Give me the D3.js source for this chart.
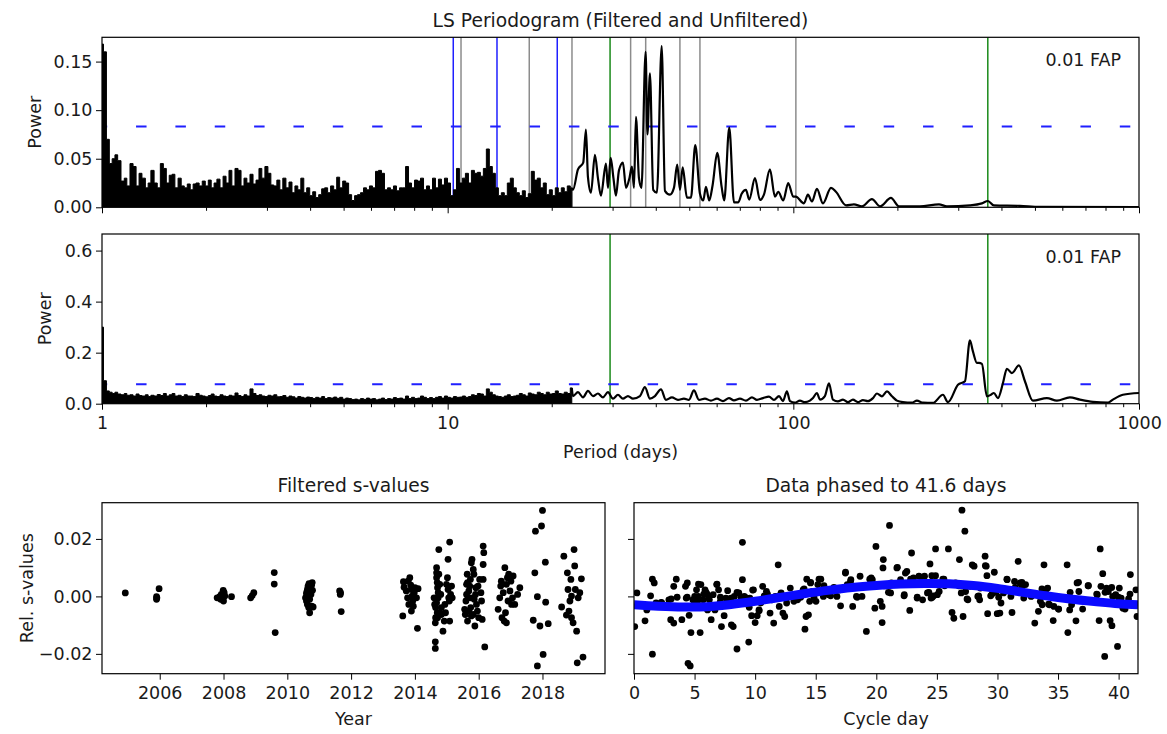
<!DOCTYPE html>
<html><head><meta charset="utf-8">
<script src="https://cdn.jsdelivr.net/npm/d3@7"></script>
<style>
body{margin:0;background:#fff;}
text{font-family:"DejaVu Sans",sans-serif;}
</style></head><body>
<svg id="c" width="1167" height="734"></svg>
<script>
// ---------- periodogram: dense sampling (1 - 23 days) ----------
const densePeriods = [
1.00,1.02,1.04,1.06,1.08,1.10,1.12,1.15,1.17,1.19,
1.22,1.24,1.27,1.29,1.32,1.35,1.37,1.40,1.43,1.46,
1.49,1.52,1.55,1.58,1.61,1.64,1.68,1.71,1.75,1.78,
1.82,1.85,1.89,1.93,1.97,2.01,2.05,2.09,2.13,2.17,
2.22,2.26,2.31,2.35,2.40,2.45,2.50,2.55,2.60,2.65,
2.71,2.76,2.82,2.87,2.93,2.99,3.05,3.11,3.17,3.24,
3.30,3.37,3.44,3.51,3.58,3.65,3.72,3.80,3.87,3.95,
4.03,4.11,4.19,4.28,4.36,4.45,4.54,4.63,4.73,4.82,
4.92,5.02,5.12,5.22,5.33,5.43,5.54,5.65,5.77,5.88,
6.00,6.12,6.25,6.37,6.50,6.63,6.77,6.90,7.04,7.18,
7.33,7.48,7.63,7.78,7.94,8.10,8.26,8.43,8.60,8.77,
8.95,9.13,9.31,9.50,9.69,9.89,10.09,10.29,10.50,10.71,
10.92,11.14,11.37,11.60,11.83,12.07,12.31,12.56,12.81,13.07,
13.33,13.60,13.88,14.16,14.44,14.73,15.03,15.33,15.64,15.96,
16.28,16.61,16.94,17.28,17.63,17.99,18.35,18.72,19.10,19.48,
19.88,20.28,20.69,21.11,21.53,21.96,22.41,22.86];
const filteredDensePower = [
0.168,0.160,0.070,0.045,0.050,0.054,0.048,0.027,0.030,0.022,
0.045,0.042,0.022,0.035,0.030,0.020,0.025,0.038,0.025,0.020,
0.045,0.040,0.025,0.033,0.034,0.020,0.030,0.022,0.020,0.024,
0.018,0.024,0.025,0.022,0.027,0.022,0.028,0.020,0.025,0.029,
0.020,0.032,0.025,0.038,0.022,0.040,0.038,0.022,0.030,0.025,
0.034,0.024,0.028,0.040,0.030,0.042,0.035,0.023,0.022,0.028,
0.018,0.030,0.020,0.026,0.015,0.022,0.018,0.030,0.015,0.020,
0.012,0.016,0.010,0.013,0.019,0.020,0.015,0.022,0.018,0.031,
0.020,0.027,0.025,0.013,0.007,0.012,0.013,0.015,0.020,0.018,
0.022,0.020,0.037,0.038,0.035,0.018,0.020,0.018,0.022,0.017,
0.020,0.020,0.042,0.025,0.020,0.028,0.027,0.030,0.018,0.022,
0.018,0.030,0.020,0.029,0.023,0.030,0.025,0.012,0.018,0.040,
0.025,0.030,0.035,0.025,0.038,0.035,0.036,0.032,0.040,0.060,
0.042,0.035,0.020,0.012,0.015,0.012,0.025,0.030,0.020,0.015,
0.012,0.017,0.010,0.014,0.037,0.028,0.030,0.020,0.025,0.013,
0.018,0.012,0.020,0.015,0.020,0.016,0.022,0.020];
const unfilteredDensePower = [
0.300,0.090,0.050,0.045,0.040,0.045,0.038,0.035,0.040,0.033,
0.035,0.030,0.038,0.032,0.030,0.035,0.028,0.033,0.030,0.036,
0.032,0.040,0.030,0.035,0.040,0.030,0.033,0.028,0.035,0.030,
0.030,0.028,0.040,0.033,0.030,0.027,0.032,0.038,0.030,0.028,
0.035,0.030,0.028,0.033,0.030,0.042,0.032,0.028,0.035,0.030,
0.058,0.040,0.032,0.035,0.030,0.028,0.033,0.030,0.035,0.027,
0.028,0.032,0.025,0.030,0.027,0.022,0.028,0.025,0.022,0.026,
0.024,0.020,0.025,0.022,0.028,0.020,0.024,0.022,0.026,0.021,
0.025,0.018,0.022,0.020,0.016,0.018,0.015,0.020,0.017,0.022,
0.018,0.020,0.015,0.018,0.022,0.016,0.020,0.018,0.024,0.020,
0.022,0.018,0.030,0.020,0.025,0.020,0.022,0.030,0.025,0.020,
0.024,0.020,0.025,0.028,0.022,0.030,0.025,0.022,0.028,0.025,
0.026,0.030,0.025,0.028,0.035,0.032,0.040,0.038,0.030,0.058,
0.045,0.035,0.030,0.028,0.025,0.030,0.035,0.028,0.030,0.033,
0.040,0.035,0.030,0.042,0.038,0.035,0.045,0.040,0.035,0.045,
0.038,0.040,0.050,0.040,0.038,0.045,0.040,0.062];

// ---------- periodogram: resolved part (23 - 1000 days) ----------
const filteredPeriods = [23.04,23.82,24.67,25.12,25.46,25.97,26.67,27.21,27.76,28.7,
29.09,29.62,30.17,30.68,31.3,32.14,32.8,33.56,34.13,34.59,
35.05,35.76,36.36,37.38,37.84,38.47,39.32,40.31,41.6,42.52,
43.95,45.14,46.14,46.99,47.85,49.23,50.56,52.03,53.69,54.88,
55.87,57.11,58.42,60.24,62.03,63.1,65.26,67.34,69.3,70.88,
72.94,74.56,77.44,80.07,82.22,85.57,88.47,90.44,93.49,96.65,
99.93,101.7,107.3,110.2,113.2,117.0,121.8,128.5,132.8,142.0,
149.7,157.9,168.8,178.1,191.6,202.1,232.3,263.8,278.2,324.2,
351.2,365.5,380.4,452.4,516.9,1000];
const filteredPower = [0.018,0.039,0.046,0.080,0.031,0.015,0.054,0.030,0.012,0.045,
0.020,0.051,0.030,0.012,0.038,0.046,0.020,0.030,0.042,0.020,
0.093,0.030,0.020,0.160,0.075,0.138,0.018,0.015,0.166,0.017,
0.013,0.020,0.044,0.018,0.041,0.010,0.010,0.064,0.014,0.007,
0.021,0.007,0.023,0.056,0.021,0.007,0.082,0.005,0.005,0.014,
0.018,0.008,0.030,0.0075,0.013,0.039,0.011,0.016,0.007,0.025,
0.011,0.011,0.004,0.013,0.006,0.019,0.004,0.020,0.016,0.002,
0.003,0.001,0.0085,0.001,0.0096,0.001,0.001,0.003,0.001,0.002,
0.004,0.0065,0.002,0.0015,0.0005,0.0003];

const unfilteredPeriods = [23.04,23.82,24.63,25.46,26.33,27.21,28.14,29.09,30.08,31.09,
32.14,33.23,34.36,36.0,37.21,38.47,39.78,41.4,42.8,44.55,
46.37,48.26,49.89,51.58,53.33,55.5,57.77,60.12,62.57,65.12,
67.34,70.07,72.94,75.92,78.5,81.7,85.0,87.9,90.9,93.3,
95.8,97.8,101.1,104.5,108.0,111.7,114.0,117.0,119.4,123.4,
126.8,130.2,134.6,139.2,143.9,148.7,153.8,159.0,164.4,170.0,
174.5,180.4,186.6,192.9,199.4,207.5,220.3,227.8,237.1,253.4,
270.9,280.1,299.4,313.7,324.2,330.8,339.7,344.3,351.2,363.1,
372.9,380.4,390.7,403.9,414.8,428.8,449.4,467.7,493.3,541.5,
578.8,631.0,674.5,735.7,812.8,840.4,898.3,1000];
const unfilteredPower = [0.030,0.045,0.025,0.050,0.030,0.040,0.025,0.045,0.020,0.035,
0.020,0.030,0.020,0.030,0.065,0.020,0.030,0.056,0.015,0.025,
0.015,0.020,0.015,0.052,0.015,0.020,0.012,0.020,0.010,0.022,
0.013,0.020,0.012,0.025,0.015,0.022,0.028,0.015,0.030,0.010,
0.048,0.010,0.004,0.012,0.006,0.012,0.022,0.042,0.016,0.030,
0.080,0.016,0.009,0.016,0.006,0.016,0.006,0.014,0.010,0.022,
0.040,0.029,0.048,0.029,0.012,0.006,0.004,0.012,0.004,0.003,
0.035,0.006,0.074,0.088,0.248,0.205,0.160,0.160,0.156,0.029,
0.035,0.042,0.022,0.080,0.137,0.120,0.150,0.088,0.012,0.022,
0.012,0.025,0.016,0.007,0.004,0.016,0.035,0.042];

// marker lines and thresholds
const bluePeriods = [10.38, 13.89, 20.75];
const grayPeriods = [10.93, 17.22, 22.89, 33.83, 37.4, 46.98, 53.68, 101.7];
const greenPeriods = [29.5, 365.25];
const fapFiltered = 0.0831;
const fapUnfiltered = 0.076;

// ---------- filtered s-values vs year ----------
const yearX = [
2004.92,
2005.9,2005.9,2005.91,2005.98,
2007.8,2007.88,2007.93,2007.95,2007.99,2008.02,2008.04,2008.0,2007.91,2008.25,
2008.85,2008.9,2008.95,
2009.59,2009.59,2009.62,
2010.57,2010.6,2010.63,2010.65,2010.68,2010.71,2010.74,2010.76,2010.78,2010.6,2010.63,2010.67,2010.7,2010.76,2010.81,2010.65,2010.7,2010.74,2010.79,2010.61,
2011.64,2011.66,2011.67,2011.69,
2013.62,2013.64,2013.66,2013.73,2013.79,2013.84,2013.87,2013.89,2013.91,2013.93,2013.95,2013.89,2013.98,2014.0,2014.05,2014.08,2014.1,2013.81,2013.77,
2014.64,2014.64,2014.68,2014.68,2014.68,2014.7,2014.71,2014.73,2014.73,2014.68,2014.65,2014.7,2014.65,2014.64,2014.75,2014.78,2014.81,2014.83,2014.88,2014.92,2014.94,2014.99,2015.02,2015.04,2015.06,2015.08,2015.09,2015.04,2015.09,2015.12,2015.15,2015.17,2014.78,2014.83,2014.6,2014.62,2014.75,2014.71,2014.96,
2015.56,2015.58,2015.6,2015.62,2015.62,2015.64,2015.65,2015.67,2015.69,2015.72,2015.74,2015.75,2015.77,2015.77,2015.79,2015.83,2015.85,2015.86,2015.88,2015.9,2015.91,2015.93,2015.96,2015.98,2016.03,2016.07,2016.09,2016.11,2016.14,2016.16,2016.14,2016.14,2016.19,2015.69,2015.65,2015.83,2016.0,2015.75,
2016.61,2016.66,2016.69,2016.71,2016.77,2016.8,2016.82,2016.84,2016.87,2016.9,2016.92,2016.94,2016.98,2017.01,2017.03,2017.06,2017.08,2017.13,2017.22,2017.29,2016.73,2016.87,
2017.71,2017.76,2017.78,2017.84,2017.92,2017.97,2018.0,2018.02,2018.09,2018.1,2018.18,2017.84,
2018.6,2018.67,2018.75,2018.78,2018.8,2018.83,2018.86,2018.89,2018.91,2018.96,2018.99,2019.01,2019.03,2019.07,2019.09,2019.12,2019.17,2019.22,2019.27,2018.91];
const yearS = [
0.0012,
-0.0001,-0.001,-0.0005,0.0027,
-0.0005,-0.0001,0.0007,-0.0008,0.0021,0.0013,0.0001,-0.0016,-0.001,-0.0001,
-0.0005,0.0003,0.0013,
0.0083,0.0043,-0.0126,
-0.0005,0.0009,0.0024,0.0036,0.0044,0.003,0.0015,0.0039,0.0048,-0.0016,-0.0028,-0.0039,-0.0057,-0.0034,-0.0037,0.0001,-0.001,0.0007,0.0021,0.0015,
0.0019,0.0007,0.0013,-0.0053,
-0.0068,0.0051,0.0032,0.0019,0.0053,0.0065,0.0039,0.0024,0.0001,-0.0016,-0.0034,-0.0051,0.0013,0.003,-0.0005,-0.0111,0.0027,-0.0028,-0.0005,
-0.0158,-0.0181,0.01,0.0082,0.0065,0.0048,0.003,0.0013,-0.0005,-0.0022,-0.0039,-0.0057,-0.0074,-0.0092,0.0163,0.0042,0.0007,-0.0039,-0.0121,-0.0086,-0.0028,0.0042,0.0065,0.0024,-0.0005,-0.0016,-0.0086,0.0129,0.0189,0.0007,0.0036,-0.0005,-0.0057,-0.0063,-0.0005,-0.0028,0.0077,-0.0074,-0.0057,
-0.0045,-0.0063,-0.0016,0.0007,0.0042,0.0077,-0.0086,-0.0005,0.0019,0.0036,0.0059,-0.0039,-0.0068,0.0117,0.0129,0.0094,0.0077,-0.001,-0.0103,0.0007,0.003,-0.0028,-0.0051,0.0036,0.0059,0.0013,-0.0016,-0.008,0.0175,0.0152,0.0111,0.0059,-0.0176,-0.0051,0.0048,-0.0063,-0.0074,-0.0005,
-0.0045,-0.0005,0.0036,0.0053,0.0013,-0.0086,0.01,-0.0057,0.0042,0.0065,-0.0016,0.0077,0.0019,0.0053,-0.0028,-0.0005,0.0071,-0.0028,0.0007,0.003,-0.0074,-0.0092,
-0.0083,0.0082,0.0227,-0.0001,-0.0103,0.0245,0.0299,-0.0202,0.0119,-0.002,-0.0095,-0.0242,
-0.0037,0.014,-0.0065,0.0082,0.0024,-0.0051,-0.0016,0.0059,0.0001,-0.0092,0.0163,0.0106,0.0024,-0.0121,-0.0231,-0.0005,0.0013,0.0061,-0.0211,-0.0074];

// ---------- data phased to 41.6 days ----------
const phaseDay = [
0.06,0.24,0.91,1.06,1.52,1.52,1.67,1.37,1.82,2.28,
2.88,3.03,3.28,3.28,3.49,3.95,4.25,4.31,4.40,4.46,
4.64,4.55,4.70,4.86,5.01,5.16,5.31,5.46,5.52,5.71,
5.86,6.01,6.07,6.22,6.37,6.53,6.68,6.83,6.98,7.13,
7.22,7.44,7.59,7.89,8.04,8.19,8.28,8.5,8.65,8.95,
8.95,9.1,9.47,9.56,9.71,9.86,10.0,10.17,10.32,10.47,
10.62,10.93,11.23,11.38,11.53,11.68,11.9,11.99,12.14,12.29,
12.44,12.6,12.9,13.2,13.5,13.96,14.11,14.2,14.26,14.4,
14.5,14.57,14.72,15.02,15.17,15.42,15.63,16.08,16.75,16.99,
17.45,17.6,17.9,18.05,18.36,18.66,18.82,19.18,19.58,19.67,
19.88,19.97,20.33,20.48,20.48,20.55,20.58,20.64,21.0,21.09,
21.18,21.24,21.7,22.0,22.31,22.4,22.52,22.76,22.91,23.07,
23.37,23.52,23.82,23.98,24.22,24.43,24.52,24.58,24.73,24.89,
24.89,25.04,25.19,25.49,25.64,25.95,26.25,26.4,26.55,26.86,
27.01,27.07,27.16,27.31,27.37,27.56,27.77,27.92,28.07,28.38,
28.53,28.59,28.98,29.07,29.13,29.19,29.44,29.74,29.89,29.98,
30.2,30.29,30.5,30.8,31.11,31.2,31.41,31.71,31.87,32.02,
32.17,32.32,32.78,33.08,33.38,33.54,33.69,33.84,33.99,34.14,
34.29,34.6,34.66,35.05,35.75,35.81,35.96,36.12,36.48,36.57,
36.72,37.03,37.48,38.24,38.39,38.48,38.54,38.69,38.85,39.0,
39.15,39.3,39.45,39.51,39.76,39.91,40.06,40.21,40.36,40.82,
40.97,41.43,41.52,
2.25,3.07,3.56,4.39,4.99,5.26,5.32,5.76,5.95,6.17,
6.3,6.85,7.13,7.73,8.0,8.5,8.83,9.16,9.51,9.79,
10.33,10.75,11.02,11.57,12.12,12.66,13.21,13.49,13.76,14.04,
14.58,14.86,15.27,15.68,16.23,16.5,17.05,17.46,17.87,18.42,
19.46,19.93,20.78,21.74,22.29,22.83,23.38,23.79,24.34,24.62,
25.58,26.81,27.49,28.45,29.0,29.55,30.1,30.78,31.47,32.02,
32.84,33.67,34.22,35.04,36.0,36.69,37.51,38.19,38.88,39.43,
39.98,40.53,40.94];
const phaseS = [
-0.0105,0.0012,-0.0085,-0.0047,-0.0201,0.006,0.0047,0.0002,-0.0023,-0.0023,
-0.0012,-0.0081,-0.0093,0.0035,0.006,-0.0081,0.0035,-0.0006,0.0047,-0.0233,
-0.0242,-0.0066,-0.0126,-0.0012,0.0,0.0023,0.0,-0.0126,0.0041,-0.0012,
0.0023,0.0009,-0.0047,-0.0012,-0.0081,0.0006,-0.0047,0.0041,0.0023,-0.0017,
-0.0105,-0.0067,-0.0006,-0.0012,-0.0099,-0.0105,0.0,-0.0183,0.0012,0.0188,
0.0058,0.0,-0.0159,-0.0006,-0.0067,0.0023,-0.0091,-0.0067,-0.0047,-0.0023,
0.0035,0.0017,-0.0058,-0.0012,-0.0093,0.0,0.011,-0.0035,0.0012,-0.0058,
-0.007,-0.0023,0.0029,-0.0017,-0.0012,0.0023,-0.0114,-0.007,0.006,-0.0064,
-0.0017,0.0047,0.0017,-0.0017,0.0041,0.006,0.0,0.0006,0.0,0.0023,
0.0081,0.0041,0.0058,-0.0035,0.0,0.007,0.0,-0.0122,0.0064,0.0058,
-0.0041,0.0174,-0.0017,-0.0035,-0.0091,0.0099,0.0128,0.0037,0.0014,0.0247,
0.0012,0.0047,0.0099,0.0058,0.0006,0.0081,0.0087,-0.0049,0.0151,0.0064,
-0.0006,0.007,-0.0012,0.007,0.0012,0.0113,-0.0006,0.0072,0.0002,0.0165,
0.0072,0.0006,0.0017,0.006,0.0037,0.0165,-0.0056,-0.0076,0.0047,0.0128,
0.0012,0.03,-0.007,0.0227,0.0017,-0.0012,0.0035,0.011,0.0105,0.0,
-0.0012,0.0029,0.014,0.0105,0.0072,-0.006,0.0002,0.0084,0.0014,-0.006,
-0.0058,-0.0023,0.0012,0.0058,0.0,-0.0056,0.0052,0.0122,0.0047,0.0035,
-0.0006,0.0041,0.0,-0.0093,-0.0052,-0.0017,-0.0029,0.011,0.0023,0.0029,
-0.0029,-0.0084,-0.0035,-0.0044,0.011,-0.0126,-0.0047,-0.0029,-0.0085,0.0047,
0.0017,-0.0044,0.0037,0.0006,-0.0084,0.0165,0.0035,0.0079,-0.0209,0.0029,
0.0017,-0.0084,-0.0102,0.0,0.0006,-0.0174,0.0029,-0.0006,-0.0041,-0.0009,
0.0076,0.0023,-0.007,
-0.0021,-0.0009,-0.0003,-0.0003,-0.0015,-0.0015,0.0043,0.0008,0.0014,-0.0003,
-0.0038,0.0043,-0.0003,0.002,-0.0006,0.0014,-0.0003,-0.0003,-0.0038,0.0022,
-0.005,0.0002,0.0008,-0.0003,0.0008,-0.0003,-0.0009,0.0002,-0.0003,0.0026,
0.0049,-0.0003,0.006,0.0037,0.0002,0.0031,-0.0033,0.0084,0.0052,-0.0003,
0.006,0.0037,0.0037,0.0101,0.0002,0.006,-0.0003,0.0066,0.0014,-0.0003,
0.006,0.0037,-0.0009,0.0002,0.0107,0.0008,-0.0003,0.006,0.0031,0.0049,
0.0002,0.0026,-0.0027,-0.0044,0.0014,0.0049,0.0037,0.0008,0.0014,0.0031,
-0.0003,-0.0044,0.0008];
const fitDay = [0,2,4,6,8,10,12,14,16,18,20,22,24,26,28,30,32,34,36,38,40,41.6];
const fitS = [-0.0029,-0.0034,-0.0037,-0.0036,-0.0028,-0.0017,-0.0004,0.0009,0.0021,0.0031,0.0038,0.0043,0.0045,0.0044,0.0038,0.0028,0.0015,0.0002,-0.0009,-0.0018,-0.0026,-0.0029];

// ---------- tick labels ----------
const periodMajorTicks = [1, 10, 100, 1000];
const periodMinorTicks = [2,3,4,5,6,7,8,9,20,30,40,50,60,70,80,90,200,300,400,500,600,700,800,900];
const topPowerTicks = [0, 0.05, 0.10, 0.15];
const midPowerTicks = [0, 0.2, 0.4, 0.6];
const sTicks = [-0.02, 0, 0.02];
const yearTicks = [2006, 2008, 2010, 2012, 2014, 2016, 2018];
const dayTicks = [0, 5, 10, 15, 20, 25, 30, 35, 40];

// ================= drawing =================
const F = '"DejaVu Sans", sans-serif';
const FS = 17.5, TS = 18.7;
const svg = d3.select('#c');
const TXT = '#1a1a1a';

const P1 = {x0:102, x1:1139, y0:37.3, y1:207.3};
const P2 = {x0:102, x1:1139, y0:234, y1:403.7};
const P3 = {x0:102, x1:605, y0:502.7, y1:673.7};
const P4 = {x0:634, x1:1138, y0:502.7, y1:673.7};

const xP = d3.scaleLog().domain([1,1000]).range([P1.x0, P1.x1]);
const yTop = d3.scaleLinear().domain([0,0.175]).range([P1.y1, P1.y0]);
const yMid = d3.scaleLinear().domain([0,0.665]).range([P2.y1, P2.y0]);
const xYear = d3.scaleLinear().domain([2004.19, 2019.96]).range([P3.x0, P3.x1]);
const xDay = d3.scaleLinear().domain([0, 41.6]).range([P4.x0, P4.x1]);
const yS3 = d3.scaleLinear().domain([-0.0269, 0.0326]).range([P3.y1, P3.y0]);
const yS4 = yS3.copy();

const defs = svg.append('defs');
[P1,P2,P3,P4].forEach((p,i)=>{
  defs.append('clipPath').attr('id','clip'+i).append('rect')
    .attr('x',p.x0).attr('y',p.y0).attr('width',p.x1-p.x0).attr('height',p.y1-p.y0);
});

function styleAxis(g){
  g.select('.domain').remove();
  g.attr('font-size',FS).attr('font-family',F);
  g.selectAll('.tick line').attr('stroke','#000').attr('stroke-width',1);
  g.selectAll('.tick text').attr('fill',TXT);
}
function frame(p){
  svg.append('rect').attr('x',p.x0).attr('y',p.y0).attr('width',p.x1-p.x0).attr('height',p.y1-p.y0)
    .attr('fill','none').attr('stroke','#000').attr('stroke-width',1.2);
}
function periodAxes(p, labels){
  svg.append('g').attr('transform',`translate(0,${p.y1})`)
    .call(d3.axisBottom(xP).tickValues(periodMajorTicks).tickSize(6).tickPadding(7)
      .tickFormat(labels ? d3.format('d') : ''))
    .call(styleAxis);
  svg.append('g').attr('transform',`translate(0,${p.y1})`)
    .call(d3.axisBottom(xP).tickValues(periodMinorTicks).tickSize(3.5).tickFormat(''))
    .call(styleAxis);
}

function periodPanel(p, idx, yScale, denseV, perArr, powArr, fap, showBlueGray, yTicks, yFmt, labelX){
  const g = svg.append('g').attr('clip-path',`url(#clip${idx})`);
  const vline = (arr, color) => g.selectAll(null).data(arr).enter().append('line')
    .attr('x1',d=>xP(d)).attr('x2',d=>xP(d)).attr('y1',p.y0).attr('y2',p.y1)
    .attr('stroke',color).attr('stroke-width',1.5);
  if (showBlueGray){
    vline(grayPeriods,'#8c8c8c');
    vline(bluePeriods,'#1f1fff');
  }
  vline(greenPeriods,'#1a8a1a');
  g.append('line').attr('x1',p.x0).attr('x2',p.x1).attr('y1',yScale(fap)).attr('y2',yScale(fap))
    .attr('stroke','#1f1fff').attr('stroke-width',2).attr('stroke-dasharray','10.5,28.85').attr('stroke-dashoffset',5.3);
  const dense = densePeriods.map((d,i)=>[d, denseV[i]]).filter(d=>d[1]!==undefined);
  g.append('path').datum(dense)
    .attr('d', d3.area().x(d=>xP(d[0])).y0(yScale(0)).y1(d=>yScale(d[1])).curve(d3.curveStep))
    .attr('fill','#000').attr('stroke','#000').attr('stroke-width',1);
  const n = Math.min(perArr.length, powArr.length);
  const res = d3.range(n).map(i=>[perArr[i], powArr[i]]);
  res.unshift(dense[dense.length-1]);
  g.append('path').datum(res)
    .attr('d', d3.line().x(d=>xP(d[0])).y(d=>yScale(d[1])).curve(d3.curveMonotoneX))
    .attr('fill','none').attr('stroke','#000').attr('stroke-width',2.2).attr('stroke-linejoin','round');
  frame(p);
  svg.append('g').attr('transform',`translate(${p.x0},0)`)
    .call(d3.axisLeft(yScale).tickValues(yTicks).tickSize(6).tickPadding(3.5).tickFormat(yFmt))
    .call(styleAxis);
  svg.append('text').attr('transform',`translate(${labelX},${(p.y0+p.y1)/2}) rotate(-90)`)
    .attr('text-anchor','middle').attr('font-size',FS).attr('fill',TXT).text('Power');
  svg.append('text').attr('x',1121).attr('y',p.y0+29).attr('text-anchor','end')
    .attr('font-size',FS).attr('fill',TXT).text('0.01 FAP');
}

periodPanel(P1, 0, yTop, filteredDensePower, filteredPeriods, filteredPower, fapFiltered, true, topPowerTicks, d3.format('.2f'), 41);
periodAxes(P1, false);
periodPanel(P2, 1, yMid, unfilteredDensePower, unfilteredPeriods, unfilteredPower, fapUnfiltered, false, midPowerTicks, d3.format('.1f'), 51);
periodAxes(P2, true);

svg.append('text').attr('x',(P1.x0+P1.x1)/2).attr('y',27).attr('text-anchor','middle')
  .attr('font-size',TS).attr('fill',TXT).text('LS Periodogram (Filtered and Unfiltered)');
svg.append('text').attr('x',(P2.x0+P2.x1)/2).attr('y',458).attr('text-anchor','middle')
  .attr('font-size',FS).attr('fill',TXT).text('Period (days)');

// ---- bottom-left: s-values vs year
{
  const g = svg.append('g').attr('clip-path','url(#clip2)');
  const n = Math.min(yearX.length, yearS.length);
  g.selectAll(null).data(d3.range(n)).enter().append('circle')
    .attr('cx',i=>xYear(yearX[i])).attr('cy',i=>yS3(yearS[i])).attr('r',3.4).attr('fill','#000');
  frame(P3);
  svg.append('g').attr('transform',`translate(0,${P3.y1})`)
    .call(d3.axisBottom(xYear).tickValues(yearTicks).tickSize(6).tickPadding(7).tickFormat(d3.format('d')))
    .call(styleAxis);
  svg.append('g').attr('transform',`translate(${P3.x0},0)`)
    .call(d3.axisLeft(yS3).tickValues(sTicks).tickSize(6).tickPadding(3.5).tickFormat(d3.format('.2f')))
    .call(styleAxis);
  svg.append('text').attr('x',(P3.x0+P3.x1)/2).attr('y',492).attr('text-anchor','middle')
    .attr('font-size',TS).attr('fill',TXT).text('Filtered s-values');
  svg.append('text').attr('x',(P3.x0+P3.x1)/2).attr('y',725).attr('text-anchor','middle')
    .attr('font-size',FS).attr('fill',TXT).text('Year');
  svg.append('text').attr('transform',`translate(33,${(P3.y0+P3.y1)/2}) rotate(-90)`)
    .attr('text-anchor','middle').attr('font-size',FS).attr('fill',TXT).text('Rel. s-values');
}

// ---- bottom-right: phased
{
  const g = svg.append('g').attr('clip-path','url(#clip3)');
  const n = Math.min(phaseDay.length, phaseS.length);
  g.selectAll(null).data(d3.range(n)).enter().append('circle')
    .attr('cx',i=>xDay(phaseDay[i])).attr('cy',i=>yS4(phaseS[i])).attr('r',3.4).attr('fill','#000');
  const fit = fitDay.map((d,i)=>[d, fitS[i]]);
  g.append('path').datum(fit)
    .attr('d', d3.line().x(d=>xDay(d[0])).y(d=>yS4(d[1])).curve(d3.curveCatmullRom))
    .attr('fill','none').attr('stroke','#0a0aff').attr('stroke-width',9);
  frame(P4);
  svg.append('g').attr('transform',`translate(0,${P4.y1})`)
    .call(d3.axisBottom(xDay).tickValues(dayTicks).tickSize(6).tickPadding(7).tickFormat(d3.format('d')))
    .call(styleAxis);
  svg.append('g').attr('transform',`translate(${P4.x0},0)`)
    .call(d3.axisLeft(yS4).tickValues(sTicks).tickSize(6).tickFormat(''))
    .call(styleAxis);
  svg.append('text').attr('x',(P4.x0+P4.x1)/2).attr('y',492).attr('text-anchor','middle')
    .attr('font-size',TS).attr('fill',TXT).text('Data phased to 41.6 days');
  svg.append('text').attr('x',(P4.x0+P4.x1)/2).attr('y',725).attr('text-anchor','middle')
    .attr('font-size',FS).attr('fill',TXT).text('Cycle day');
}
</script></body></html>
